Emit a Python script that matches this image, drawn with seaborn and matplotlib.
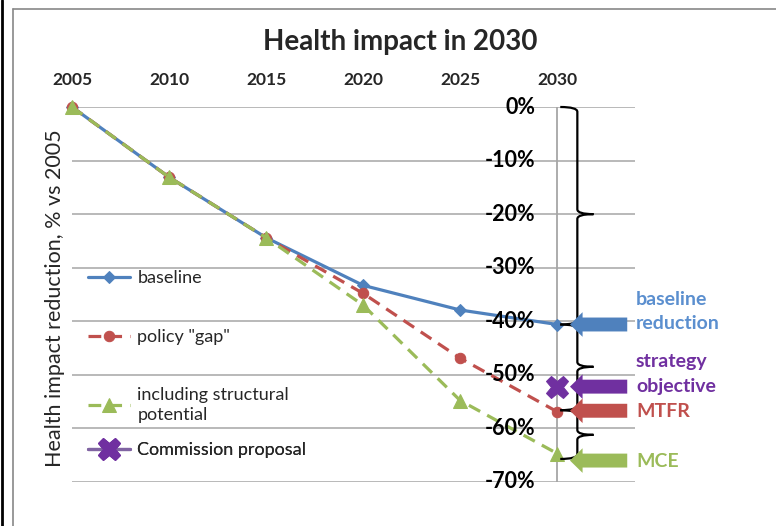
import numpy as np
import pandas as pd
import seaborn as sns
import matplotlib
matplotlib.use("Agg")
import matplotlib.pyplot as plt
from matplotlib.path import Path
from matplotlib.patches import PathPatch, FancyArrow
from matplotlib.lines import Line2D

# ---------------- data ----------------
years = [2005, 2010, 2015, 2020, 2025, 2030]
baseline = [0, -13.1, -24.4, -33.3, -37.9, -40.6]
policy_gap = [0, -13.1, -24.4, -34.8, -46.9, -56.9]
structural = [0, -13.1, -24.4, -37.0, -54.8, -64.7]
commission_year = [2030]
commission = [-52.2]
ytick_vals = [0, -10, -20, -30, -40, -50, -60, -70]
ytick_labels = ["0%", "-10%", "-20%", "-30%", "-40%", "-50%", "-60%", "-70%"]
series_labels = ["baseline", 'policy "gap"', "including structural\npotential", "Commission proposal"]

arrow_vals = [-40.6, -52.2, -56.7, -66.0]
arrow_labels = ["baseline\nreduction", "strategy\nobjective", "MTFR", "MCE"]
brace_ranges = [(0, -40.6, -20.0), (-40.6, -56.6, -48.5), (-56.6, -65.7, -61.2)]

BLUE = "#4F81BD"
RED = "#C0504D"
GREEN = "#9BBB59"
PURPLE = "#7030A0"
arrow_colors = [BLUE, PURPLE, RED, GREEN]
label_colors = ["#5B8FCF", PURPLE, RED, GREEN]

# ---------------- style ----------------
sns.set_theme(style="white")
plt.rcParams["font.family"] = ["Lato", "DejaVu Sans"]

fig = plt.figure(figsize=(7.76, 5.26), dpi=100)
ax = fig.add_axes([72 / 776, 1 - 482 / 526, (635 - 72) / 776, (482 - 107) / 526])

# gridlines
for v in ytick_vals:
    ax.axhline(v, color="#A6A6A6", lw=1.1, zorder=1)
ax.axvline(2030, color="#A6A6A6", lw=1.3, zorder=1)

# series
sns.lineplot(x=years, y=baseline, ax=ax, color=BLUE, marker="D", markersize=6.5,
             markeredgecolor=BLUE, linewidth=2.3, label=series_labels[0], clip_on=False, zorder=4)
sns.lineplot(x=years, y=policy_gap, ax=ax, color=RED, marker="o", markersize=7.5,
             markeredgecolor=RED, linewidth=2.3, linestyle=(0, (4, 2.5)),
             label=series_labels[1], clip_on=False, zorder=5)
sns.lineplot(x=years, y=structural, ax=ax, color=GREEN, marker="^", markersize=9.5,
             markeredgecolor=GREEN, linewidth=2.3, linestyle=(0, (4, 2.5)),
             label=series_labels[2], clip_on=False, zorder=6)
sns.lineplot(x=commission_year, y=commission, ax=ax, color=PURPLE, marker="X", markersize=16,
             markeredgecolor=PURPLE, linewidth=2.3, label=series_labels[3],
             clip_on=False, zorder=7)

handles, labels = ax.get_legend_handles_labels()
for h in handles:
    if h.get_label() == series_labels[3]:
        h.set_color("#8064A2")
        h.set_markerfacecolor(PURPLE)
        h.set_markeredgecolor(PURPLE)

ax.set_xlim(2005, 2034)
ax.set_ylim(-70, 0)

ax.xaxis.tick_top()
ax.set_xticks(years)
ax.set_xticklabels([str(y) for y in years], fontweight="bold", fontsize=12.5)
ax.tick_params(axis="x", length=0, pad=14)
ax.set_yticks([])
for v, lab in zip(ytick_vals, ytick_labels):
    ax.text(2028.85, v, lab, ha="right", va="center", fontsize=15.5, fontweight="bold",
            color="black", zorder=8)
for s in ax.spines.values():
    s.set_visible(False)

ax.set_ylabel("Health impact reduction, % vs 2005", fontsize=15.5)
ax.yaxis.set_label_coords(-0.012, 0.49)

# legend: one entry per row, placed like the original
leg_y = [278, 337, 405, 450]
for h, lab, py in zip(handles, labels, leg_y):
    lg = ax.legend([h], [lab], loc="center left",
                   bbox_to_anchor=((88 - 72) / 563, 1 - (py - 107) / 375),
                   frameon=False, fontsize=13, handlelength=2.35, handletextpad=0.38,
                   borderpad=0.0, borderaxespad=0.0)
    for t in lg.get_texts():
        t.set_linespacing(1.35)
    ax.add_artist(lg)

# title
fig.text(400 / 776, 1 - 42 / 526, "Health impact in 2030", ha="center", va="center",
         fontsize=20, fontweight="bold")

# braces
x_hook = 2030.15
x_stem = 2031.03
x_tip = 2031.86
r = 0.9
for top, bot, tip in brace_ranges:
    verts = [(x_hook, top), (x_stem, top), (x_stem, top - r),
             (x_stem, tip + r), (x_stem, tip), (x_tip, tip),
             (x_tip, tip), (x_stem, tip), (x_stem, tip - r),
             (x_stem, bot + r), (x_stem, bot), (x_hook, bot)]
    codes = [Path.MOVETO, Path.CURVE3, Path.CURVE3,
             Path.LINETO, Path.CURVE3, Path.CURVE3,
             Path.MOVETO, Path.CURVE3, Path.CURVE3,
             Path.LINETO, Path.CURVE3, Path.CURVE3]
    ax.add_patch(PathPatch(Path(verts, codes), fill=False, edgecolor="black", lw=1.6,
                           clip_on=False, zorder=9))

# arrows
x_start = 2033.6
x_end = 2030.65
for v, c in zip(arrow_vals, arrow_colors):
    ax.add_patch(FancyArrow(x_start, v, x_end - x_start, 0, width=2.6, head_width=4.6,
                            head_length=0.65, length_includes_head=True, color=c,
                            clip_on=False, zorder=10, lw=0))

for v, lab, c in zip(arrow_vals, arrow_labels, label_colors):
    if "\n" in lab:
        ax.text(2034.05, v + 2.4, lab, ha="left", va="center", fontsize=14, fontweight="bold",
                color=c, linespacing=1.55, clip_on=False)
    else:
        ax.text(2034.05, v - 0.2, lab, ha="left", va="center", fontsize=14, fontweight="bold",
                color=c, clip_on=False)

# frame lines
fig.add_artist(Line2D([13 / 776, 1], [1 - 9 / 526, 1 - 9 / 526], color="#888888", lw=1.2))
fig.add_artist(Line2D([13 / 776, 13 / 776], [0, 1 - 9 / 526], color="#888888", lw=1.2))
fig.add_artist(Line2D([1.5 / 776, 1.5 / 776], [0, 1], color="black", lw=2))

fig.savefig("out.png", dpi=100)
